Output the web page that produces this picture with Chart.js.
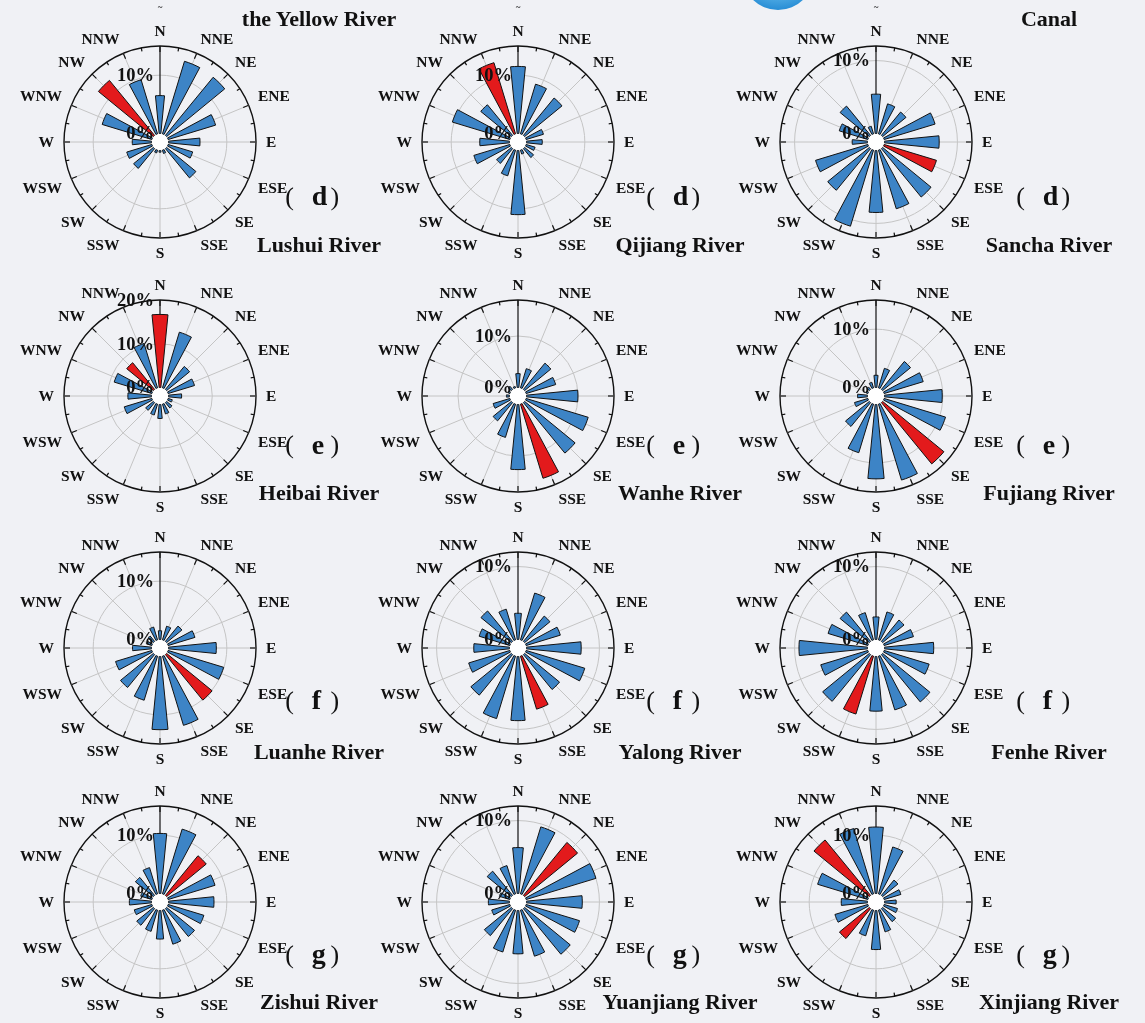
<!DOCTYPE html>
<html>
<head>
<meta charset="utf-8">
<title>Wind roses of river basins</title>
<script src="https://cdn.jsdelivr.net/npm/chart.js@4.4.1/dist/chart.umd.min.js"></script>
<style>
  html, body { margin: 0; padding: 0; }
  body { width: 1145px; height: 1023px; position: relative; overflow: hidden; background: #f0f1f5; }
  .rose { position: absolute; width: 300px; height: 300px; }
  .rose canvas { display: block; }
  .txt { position: absolute; line-height: 0; white-space: nowrap; color: #111; }
  .globe { position: absolute; left: 742px; top: -62px; width: 72px; height: 72px; border-radius: 50%;
           background: radial-gradient(circle at 50% 30%, #bfe6fb 0%, #6cc0ee 45%, #2a8fd6 80%, #1f7cc4 100%); }
</style>
</head>
<body>
<div class="globe"></div>
<script>
// 16 compass sectors, clockwise from north
const directions = ['N','NNE','NE','ENE','E','ESE','SE','SSE','S','SSW','SW','WSW','W','WNW','NW','NNW'];

// frequency (%) per sector
const lushui    = [6.5, 13.0, 12.9, 8.5, 5.4, 4.4, 6.5, 0.6, 0.3, 0.5, 4.4, 4.5, 3.3, 8.9, 12.2, 9.7];
const qijiang   = [11.5, 8.9, 8.3, 3.1, 2.7, 1.6, 2.0, 0.7, 11.0, 4.6, 3.3, 6.45, 5.1, 10.3, 6.8, 12.75];
const sancha    = [5.4, 4.3, 4.15, 7.3, 7.5, 7.5, 8.6, 8.4, 8.5, 10.9, 7.4, 7.5, 2.1, 4.1, 5.2, 1.1];
const heibai    = [16.7, 13.3, 6.8, 6.3, 3.0, 1.0, 1.6, 2.35, 3.2, 2.6, 2.3, 6.6, 5.4, 9.0, 7.9, 10.6];
const wanhe     = [2.7, 3.9, 6.6, 6.0, 10.0, 12.6, 12.7, 15.05, 12.65, 6.75, 4.6, 3.4, 0.6, 0.3, 0.8, 0.3];
const fujiang   = [2.1, 3.5, 6.2, 7.0, 9.9, 11.0, 13.6, 13.6, 12.75, 8.7, 5.3, 2.4, 1.7, 0.3, 0.5, 1.0];
const luanhe    = [1.5, 2.45, 3.4, 4.8, 8.2, 9.95, 10.1, 12.4, 12.55, 7.9, 7.3, 6.5, 3.25, 1.0, 1.2, 2.3];
const yalong    = [3.6, 6.7, 4.5, 4.9, 7.5, 8.4, 6.2, 7.6, 8.8, 8.95, 7.2, 5.9, 4.9, 4.4, 5.4, 4.4];
const fenhe     = [3.1, 4.0, 3.8, 4.2, 6.75, 6.45, 8.4, 7.7, 7.5, 8.3, 8.3, 6.75, 9.4, 5.7, 5.2, 3.9];
const zishui    = [10.3, 11.6, 8.8, 8.4, 7.8, 6.4, 6.2, 6.1, 4.9, 3.8, 3.7, 3.15, 3.8, 2.0, 4.0, 4.7];
const yuanjiang = [6.3, 9.6, 9.4, 10.0, 7.65, 7.65, 8.1, 6.6, 5.95, 6.0, 4.8, 2.6, 2.9, 1.5, 4.3, 4.05];
const xinjiang  = [11.4, 8.4, 3.4, 3.0, 2.0, 2.4, 2.9, 3.9, 6.7, 4.6, 6.65, 5.9, 4.5, 9.0, 12.3, 11.7];

const frequencies = [lushui, qijiang, sancha, heibai, wanhe, fujiang, luanhe, yalong, fenhe, zishui, yuanjiang, xinjiang];
const riverNames  = ['Lushui River', 'Qijiang River', 'Sancha River', 'Heibai River', 'Wanhe River', 'Fujiang River',
                     'Luanhe River', 'Yalong River', 'Fenhe River', 'Zishui River', 'Yuanjiang River', 'Xinjiang River'];
const panelTags   = ['d', 'd', 'd', 'e', 'e', 'e', 'f', 'f', 'f', 'g', 'g', 'g'];
const highlighted = [['NW'], ['NNW'], ['ESE'], ['N', 'NW'], ['SSE'], ['SE'], ['SE'], ['SSE'], ['SSW'], ['NE'], ['NE'], ['NW', 'SW']];
const radialMax   = [15, 15, 12, 20, 17, 15, 15, 12, 12, 15, 12, 15];
const radialTicks = [[0, 10], [0, 10], [0, 10], [0, 10, 20], [0, 10], [0, 10],
                     [0, 10], [0, 10], [0, 10], [0, 10], [0, 10], [0, 10]];
const headerTitles = ['the Yellow River', 'Canal'];

// ---- layout ----
const COL_X = [160, 518, 876];
const ROW_Y = [142, 396, 648, 902];
const CANVAS = 300, PAD = 54;          // gives a 96px rose radius
const HOLE = 8.5;                      // white centre hole, px
const SLOT = 360 / 32;                 // bar and gap share a sector equally
const BLUE = '#3d84c6', RED = '#e31a1c', INK = '#111';
const SERIF = '"Liberation Serif", "Times New Roman", serif';

function putText(str, x, baseline, size, weight, family, align) {
  const d = document.createElement('div');
  d.className = 'txt';
  d.textContent = str;
  d.style.font = weight + ' ' + size + 'px ' + family;
  d.style.lineHeight = '0';
  d.style.top = (baseline - 0.3375 * size) + 'px';
  d.style.left = x + 'px';
  if (align === 'center') d.style.transform = 'translateX(-50%)';
  document.body.appendChild(d);
  return d;
}

const roseDecor = {
  id: 'roseDecor',
  afterDatasetUpdate(chart, args) {
    const s = chart.scales.r;
    const r0 = s.getDistanceFromCenterForValue(0);
    args.meta.data.forEach((el, i) => { if (i % 2 === 0) el.innerRadius = r0; });
  },
  beforeDatasetsDraw(chart) {
    const s = chart.scales.r, ctx = chart.ctx;
    const cx = s.xCenter, cy = s.yCenter, R = s.drawingArea;
    const r0 = s.getDistanceFromCenterForValue(0);
    ctx.save();
    ctx.lineWidth = 1;
    ctx.strokeStyle = '#c4c4c4';
    for (let k = 1; k < 16; k++) {
      const a = k * 22.5 * Math.PI / 180;
      ctx.beginPath();
      ctx.moveTo(cx, cy);
      ctx.lineTo(cx + R * Math.sin(a), cy - R * Math.cos(a));
      ctx.stroke();
    }
    // radial axis along north
    ctx.strokeStyle = INK;
    ctx.lineWidth = 1.2;
    ctx.beginPath();
    ctx.moveTo(cx, cy - r0);
    ctx.lineTo(cx, cy - R);
    ctx.stroke();
    ctx.fillStyle = '#ffffff';
    ctx.beginPath();
    ctx.arc(cx, cy, r0, 0, Math.PI * 2);
    ctx.fill();
    ctx.restore();
  },
  afterDatasetsDraw(chart, args, opts) {
    const s = chart.scales.r, ctx = chart.ctx;
    const cx = s.xCenter, cy = s.yCenter, R = s.drawingArea;
    ctx.save();
    // tick marks on the outer ring
    ctx.strokeStyle = INK;
    ctx.lineWidth = 1.2;
    for (let k = 0; k < 32; k++) {
      const a = k * SLOT * Math.PI / 180;
      const len = k % 2 === 0 ? 6 : 3.5;
      ctx.beginPath();
      ctx.moveTo(cx + R * Math.sin(a), cy - R * Math.cos(a));
      ctx.lineTo(cx + (R - len) * Math.sin(a), cy - (R - len) * Math.cos(a));
      ctx.stroke();
    }
    // compass labels
    ctx.fillStyle = INK;
    ctx.font = 'bold 15.5px ' + SERIF;
    ctx.textBaseline = 'alphabetic';
    const cap = 10.3, rr = R + 10;
    directions.forEach((name, k) => {
      const deg = k * 22.5, a = deg * Math.PI / 180;
      const x = cx + rr * Math.sin(a), y = cy - rr * Math.cos(a);
      ctx.textAlign = (deg === 0 || deg === 180) ? 'center' : (deg < 180 ? 'left' : 'right');
      let base;
      if (deg === 90 || deg === 270) base = y + cap / 2;
      else if (deg < 90 || deg > 270) base = y;
      else base = y + cap;
      ctx.fillText(name, x, base);
    });
    // radial percentage labels
    ctx.font = 'bold 18.5px ' + SERIF;
    ctx.textAlign = 'right';
    ctx.textBaseline = 'middle';
    opts.ticks.forEach(t => {
      ctx.fillText(t + '%', cx - 6, cy - s.getDistanceFromCenterForValue(t) + 1);
    });
    ctx.restore();
  }
};

frequencies.forEach((values, p) => {
  const col = p % 3, row = Math.floor(p / 3);
  const maxV = radialMax[p];
  const minV = -maxV * HOLE / (CANVAS / 2 - PAD - HOLE);
  const reds = highlighted[p];

  const data = [], fills = [], widths = [];
  values.forEach((v, k) => {
    data.push(v, null);
    fills.push(reds.includes(directions[k]) ? RED : BLUE, 'rgba(0,0,0,0)');
    widths.push(1, 0);
  });

  const wrap = document.createElement('div');
  wrap.className = 'rose';
  const canvas = document.createElement('canvas');
  canvas.width = CANVAS; canvas.height = CANVAS;
  wrap.appendChild(canvas);
  document.body.appendChild(wrap);

  const chart = new Chart(canvas, {
    type: 'polarArea',
    data: {
      labels: directions,
      datasets: [{ data, backgroundColor: fills, borderColor: INK, borderWidth: widths }]
    },
    options: {
      responsive: false,
      animation: false,
      events: [],
      layout: { padding: PAD },
      plugins: {
        legend: { display: false },
        tooltip: { enabled: false },
        roseDecor: { ticks: radialTicks[p] }
      },
      scales: {
        r: {
          min: minV,
          max: maxV,
          startAngle: -SLOT / 2,
          afterBuildTicks: sc => { sc.ticks = [{ value: 10 }, { value: maxV }]; },
          ticks: { display: false },
          grid: {
            circular: true,
            color: c => (c.tick && c.tick.value === maxV) ? INK : '#c4c4c4',
            lineWidth: c => (c.tick && c.tick.value === maxV) ? 1.4 : 1
          },
          angleLines: { display: false },
          pointLabels: { display: false }
        }
      }
    },
    plugins: [roseDecor]
  });

  const s = chart.scales.r;
  wrap.style.left = (COL_X[col] - s.xCenter) + 'px';
  wrap.style.top = (ROW_Y[row] - s.yCenter) + 'px';
});

// ---- page text ----
const TITLE_X = [319, 680, 1049];
const TITLE_BASE = [252, 500.7, 759.3, 1009];
const TAG_BASE = [205.6, 454.1, 709.9, 963.3];
const TAG_X = [287, 648, 1018];

riverNames.forEach((name, p) => {
  const col = p % 3, row = Math.floor(p / 3);
  putText(name, TITLE_X[col], TITLE_BASE[row], 22, 'bold', SERIF, 'center');
  const x0 = TAG_X[col];
  putText('(', x0 - 1.8, TAG_BASE[row], 26, 'normal', SERIF, 'left');
  putText(panelTags[p], x0 + 24.7, TAG_BASE[row], 28, 'bold', SERIF, 'left');
  putText(')', x0 + 51 - 7.5, TAG_BASE[row], 26, 'normal', SERIF, 'left');
});
putText(headerTitles[0], 319, 26, 22, 'bold', SERIF, 'center');
putText(headerTitles[1], 1049, 26, 22, 'bold', SERIF, 'center');
// trailing tilde marks of the row above
COL_X.forEach(x => putText('~', x, 10, 9, 'bold', SERIF, 'center'));
</script>
</body>
</html>
